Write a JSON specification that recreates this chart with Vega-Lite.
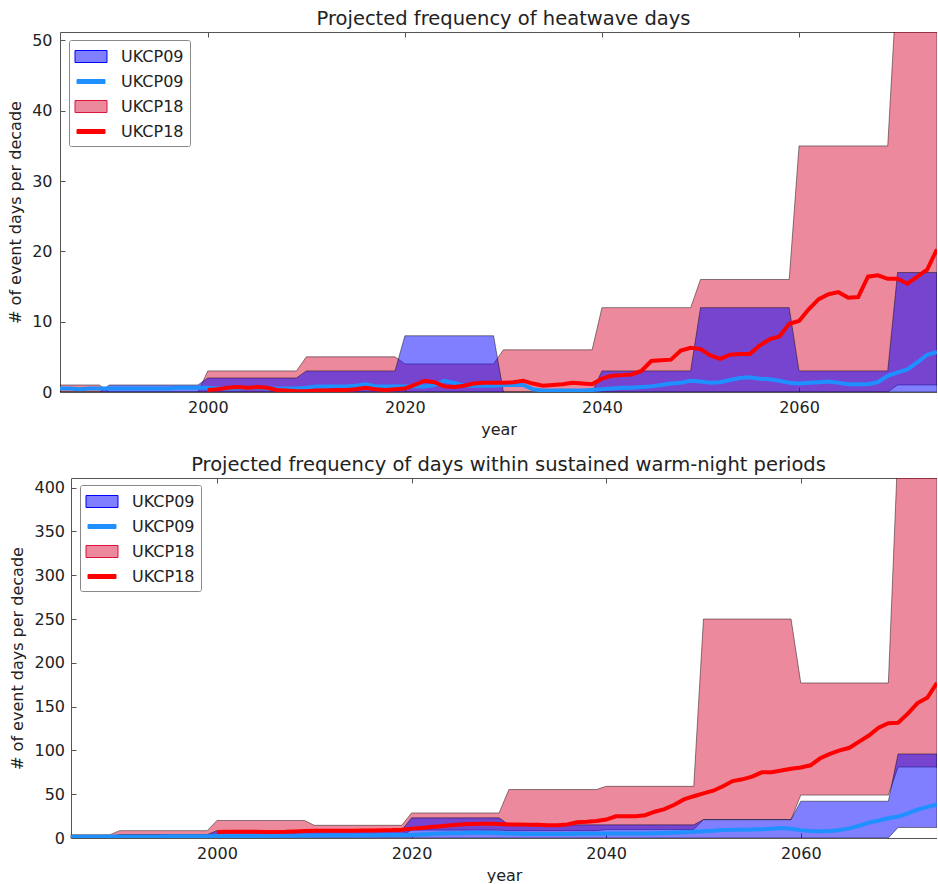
{
  "$schema": "https://vega.github.io/schema/vega-lite/v6.json",
  "background": "white",
  "padding": {"left": 7, "top": 9, "right": 0, "bottom": 0},
  "config": {
    "font": "DejaVu Sans",
    "view": {"stroke": null},
    "axis": {"labelFont": "DejaVu Sans", "titleFont": "DejaVu Sans", "labelFontSize": 16, "titleFontSize": 16, "titleFontWeight": "normal", "labelColor": "#222", "titleColor": "#222", "domainColor": "#555", "domainWidth": 1, "tickColor": "#555", "tickSize": -5, "grid": false, "zindex": 1},
    "title": {"font": "DejaVu Sans", "fontSize": 19.5, "fontWeight": "normal", "color": "#222", "offset": 2},
    "legend": {"symbolStrokeWidth": 1}
  },
  "resolve": {"scale": {"color": "independent"}, "legend": {"color": "independent"}},
  "datasets": {
    "hw18": [
      {"year": 1985, "lo": 0, "hi": 1}, {"year": 1989, "lo": 0, "hi": 1}, {"year": 1990, "lo": 0, "hi": 0}, {"year": 1999, "lo": 0, "hi": 0},
      {"year": 2000, "lo": 0, "hi": 3}, {"year": 2009, "lo": 0, "hi": 3}, {"year": 2010, "lo": 0, "hi": 5}, {"year": 2019, "lo": 0, "hi": 5},
      {"year": 2020, "lo": 0, "hi": 4}, {"year": 2029, "lo": 0, "hi": 4}, {"year": 2030, "lo": 0, "hi": 6}, {"year": 2039, "lo": 0, "hi": 6},
      {"year": 2040, "lo": 0, "hi": 12}, {"year": 2049, "lo": 0, "hi": 12}, {"year": 2050, "lo": 0, "hi": 16}, {"year": 2059, "lo": 0, "hi": 16},
      {"year": 2060, "lo": 0, "hi": 35}, {"year": 2069, "lo": 0, "hi": 35}, {"year": 2070, "lo": 1, "hi": 60}, {"year": 2074, "lo": 1, "hi": 60}
    ],
    "hw09": [
      {"year": 1985, "lo": 0, "hi": 0}, {"year": 1989, "lo": 0, "hi": 0}, {"year": 1990, "lo": 0, "hi": 1}, {"year": 1999, "lo": 0, "hi": 1},
      {"year": 2000, "lo": 0, "hi": 2}, {"year": 2009, "lo": 0, "hi": 2}, {"year": 2010, "lo": 0, "hi": 3}, {"year": 2019, "lo": 0, "hi": 3},
      {"year": 2020, "lo": 0, "hi": 8}, {"year": 2029, "lo": 0, "hi": 8}, {"year": 2030, "lo": 0, "hi": 0}, {"year": 2039, "lo": 0, "hi": 0},
      {"year": 2040, "lo": 0, "hi": 3}, {"year": 2049, "lo": 0, "hi": 3}, {"year": 2050, "lo": 0, "hi": 12}, {"year": 2059, "lo": 0, "hi": 12},
      {"year": 2060, "lo": 0, "hi": 3}, {"year": 2069, "lo": 0, "hi": 3}, {"year": 2070, "lo": 0, "hi": 17}, {"year": 2074, "lo": 0, "hi": 17}
    ],
    "wn18": [
      {"year": 1985, "lo": 0, "hi": 3.8}, {"year": 1989, "lo": 0, "hi": 3.8}, {"year": 1990, "lo": 0, "hi": 8.4}, {"year": 1999, "lo": 0, "hi": 8.4},
      {"year": 2000, "lo": 2, "hi": 20}, {"year": 2009, "lo": 2, "hi": 20}, {"year": 2010, "lo": 3, "hi": 14.5}, {"year": 2019, "lo": 3, "hi": 14.5},
      {"year": 2020, "lo": 9, "hi": 28.6}, {"year": 2029, "lo": 9, "hi": 28.6}, {"year": 2030, "lo": 8.4, "hi": 55.3}, {"year": 2039, "lo": 8.4, "hi": 55.3},
      {"year": 2040, "lo": 9.6, "hi": 59}, {"year": 2049, "lo": 9.6, "hi": 59}, {"year": 2050, "lo": 21, "hi": 250}, {"year": 2059, "lo": 21, "hi": 250},
      {"year": 2060, "lo": 49, "hi": 177}, {"year": 2069, "lo": 49, "hi": 177}, {"year": 2070, "lo": 81, "hi": 450}, {"year": 2074, "lo": 81, "hi": 450}
    ],
    "wn09": [
      {"year": 1985, "lo": 0, "hi": 2}, {"year": 1989, "lo": 0, "hi": 2}, {"year": 1990, "lo": 0, "hi": 4}, {"year": 1999, "lo": 0, "hi": 4},
      {"year": 2000, "lo": 0, "hi": 8.4}, {"year": 2009, "lo": 0, "hi": 8.4}, {"year": 2010, "lo": 0, "hi": 9}, {"year": 2019, "lo": 0, "hi": 9},
      {"year": 2020, "lo": 0, "hi": 23}, {"year": 2029, "lo": 0, "hi": 23}, {"year": 2030, "lo": 0, "hi": 15}, {"year": 2039, "lo": 0, "hi": 15},
      {"year": 2040, "lo": 0, "hi": 15}, {"year": 2049, "lo": 0, "hi": 15}, {"year": 2050, "lo": 0, "hi": 21}, {"year": 2059, "lo": 0, "hi": 21},
      {"year": 2060, "lo": 0, "hi": 42}, {"year": 2069, "lo": 0, "hi": 42}, {"year": 2070, "lo": 12, "hi": 96}, {"year": 2074, "lo": 12, "hi": 96}
    ],
    "hwMean": [
      {"series": "UKCP09 mean", "year": 1985, "value": 0.5}, {"series": "UKCP09 mean", "year": 1986, "value": 0.5}, {"series": "UKCP09 mean", "year": 1987, "value": 0.4}, {"series": "UKCP09 mean", "year": 1988, "value": 0.5}, {"series": "UKCP09 mean", "year": 1989, "value": 0.5},
      {"series": "UKCP09 mean", "year": 1990, "value": 0.5}, {"series": "UKCP09 mean", "year": 1991, "value": 0.5}, {"series": "UKCP09 mean", "year": 1992, "value": 0.5}, {"series": "UKCP09 mean", "year": 1993, "value": 0.5}, {"series": "UKCP09 mean", "year": 1994, "value": 0.5},
      {"series": "UKCP09 mean", "year": 1995, "value": 0.5}, {"series": "UKCP09 mean", "year": 1996, "value": 0.5}, {"series": "UKCP09 mean", "year": 1997, "value": 0.6}, {"series": "UKCP09 mean", "year": 1998, "value": 0.6}, {"series": "UKCP09 mean", "year": 1999, "value": 0.6},
      {"series": "UKCP09 mean", "year": 2000, "value": 0.6}, {"series": "UKCP09 mean", "year": 2001, "value": 0.5}, {"series": "UKCP09 mean", "year": 2002, "value": 0.5}, {"series": "UKCP09 mean", "year": 2003, "value": 0.5}, {"series": "UKCP09 mean", "year": 2004, "value": 0.6},
      {"series": "UKCP09 mean", "year": 2005, "value": 0.6}, {"series": "UKCP09 mean", "year": 2006, "value": 0.5}, {"series": "UKCP09 mean", "year": 2007, "value": 0.5}, {"series": "UKCP09 mean", "year": 2008, "value": 0.5}, {"series": "UKCP09 mean", "year": 2009, "value": 0.5},
      {"series": "UKCP09 mean", "year": 2010, "value": 0.6}, {"series": "UKCP09 mean", "year": 2011, "value": 0.8}, {"series": "UKCP09 mean", "year": 2012, "value": 0.8}, {"series": "UKCP09 mean", "year": 2013, "value": 0.8}, {"series": "UKCP09 mean", "year": 2014, "value": 0.8},
      {"series": "UKCP09 mean", "year": 2015, "value": 0.9}, {"series": "UKCP09 mean", "year": 2016, "value": 1.1}, {"series": "UKCP09 mean", "year": 2017, "value": 0.8}, {"series": "UKCP09 mean", "year": 2018, "value": 0.8}, {"series": "UKCP09 mean", "year": 2019, "value": 0.8},
      {"series": "UKCP09 mean", "year": 2020, "value": 0.8}, {"series": "UKCP09 mean", "year": 2021, "value": 0.8}, {"series": "UKCP09 mean", "year": 2022, "value": 0.8}, {"series": "UKCP09 mean", "year": 2023, "value": 1.0}, {"series": "UKCP09 mean", "year": 2024, "value": 1.6},
      {"series": "UKCP09 mean", "year": 2025, "value": 1.3}, {"series": "UKCP09 mean", "year": 2026, "value": 0.9}, {"series": "UKCP09 mean", "year": 2027, "value": 0.9}, {"series": "UKCP09 mean", "year": 2028, "value": 0.9}, {"series": "UKCP09 mean", "year": 2029, "value": 0.9},
      {"series": "UKCP09 mean", "year": 2030, "value": 1.0}, {"series": "UKCP09 mean", "year": 2031, "value": 1.0}, {"series": "UKCP09 mean", "year": 2032, "value": 1.0}, {"series": "UKCP09 mean", "year": 2033, "value": 0.4}, {"series": "UKCP09 mean", "year": 2034, "value": 0.2},
      {"series": "UKCP09 mean", "year": 2035, "value": 0.2}, {"series": "UKCP09 mean", "year": 2036, "value": 0.2}, {"series": "UKCP09 mean", "year": 2037, "value": 0.2}, {"series": "UKCP09 mean", "year": 2038, "value": 0.2}, {"series": "UKCP09 mean", "year": 2039, "value": 0.3},
      {"series": "UKCP09 mean", "year": 2040, "value": 0.4}, {"series": "UKCP09 mean", "year": 2041, "value": 0.5}, {"series": "UKCP09 mean", "year": 2042, "value": 0.6}, {"series": "UKCP09 mean", "year": 2043, "value": 0.6}, {"series": "UKCP09 mean", "year": 2044, "value": 0.7},
      {"series": "UKCP09 mean", "year": 2045, "value": 0.8}, {"series": "UKCP09 mean", "year": 2046, "value": 1.0}, {"series": "UKCP09 mean", "year": 2047, "value": 1.2}, {"series": "UKCP09 mean", "year": 2048, "value": 1.3}, {"series": "UKCP09 mean", "year": 2049, "value": 1.6},
      {"series": "UKCP09 mean", "year": 2050, "value": 1.5}, {"series": "UKCP09 mean", "year": 2051, "value": 1.3}, {"series": "UKCP09 mean", "year": 2052, "value": 1.4}, {"series": "UKCP09 mean", "year": 2053, "value": 1.7}, {"series": "UKCP09 mean", "year": 2054, "value": 2.0},
      {"series": "UKCP09 mean", "year": 2055, "value": 2.1}, {"series": "UKCP09 mean", "year": 2056, "value": 1.9}, {"series": "UKCP09 mean", "year": 2057, "value": 1.8}, {"series": "UKCP09 mean", "year": 2058, "value": 1.6}, {"series": "UKCP09 mean", "year": 2059, "value": 1.3},
      {"series": "UKCP09 mean", "year": 2060, "value": 1.2}, {"series": "UKCP09 mean", "year": 2061, "value": 1.3}, {"series": "UKCP09 mean", "year": 2062, "value": 1.4}, {"series": "UKCP09 mean", "year": 2063, "value": 1.5}, {"series": "UKCP09 mean", "year": 2064, "value": 1.3},
      {"series": "UKCP09 mean", "year": 2065, "value": 1.1}, {"series": "UKCP09 mean", "year": 2066, "value": 1.1}, {"series": "UKCP09 mean", "year": 2067, "value": 1.1}, {"series": "UKCP09 mean", "year": 2068, "value": 1.4}, {"series": "UKCP09 mean", "year": 2069, "value": 2.3},
      {"series": "UKCP09 mean", "year": 2070, "value": 2.8}, {"series": "UKCP09 mean", "year": 2071, "value": 3.2}, {"series": "UKCP09 mean", "year": 2072, "value": 4.2}, {"series": "UKCP09 mean", "year": 2073, "value": 5.3}, {"series": "UKCP09 mean", "year": 2074, "value": 5.7},
      {"series": "UKCP18 mean", "year": 2000, "value": 0.3}, {"series": "UKCP18 mean", "year": 2001, "value": 0.4}, {"series": "UKCP18 mean", "year": 2002, "value": 0.6}, {"series": "UKCP18 mean", "year": 2003, "value": 0.7}, {"series": "UKCP18 mean", "year": 2004, "value": 0.6},
      {"series": "UKCP18 mean", "year": 2005, "value": 0.7}, {"series": "UKCP18 mean", "year": 2006, "value": 0.6}, {"series": "UKCP18 mean", "year": 2007, "value": 0.3}, {"series": "UKCP18 mean", "year": 2008, "value": 0.2}, {"series": "UKCP18 mean", "year": 2009, "value": 0.1},
      {"series": "UKCP18 mean", "year": 2010, "value": 0.1}, {"series": "UKCP18 mean", "year": 2011, "value": 0.2}, {"series": "UKCP18 mean", "year": 2012, "value": 0.2}, {"series": "UKCP18 mean", "year": 2013, "value": 0.3}, {"series": "UKCP18 mean", "year": 2014, "value": 0.3},
      {"series": "UKCP18 mean", "year": 2015, "value": 0.4}, {"series": "UKCP18 mean", "year": 2016, "value": 0.6}, {"series": "UKCP18 mean", "year": 2017, "value": 0.4}, {"series": "UKCP18 mean", "year": 2018, "value": 0.3}, {"series": "UKCP18 mean", "year": 2019, "value": 0.4},
      {"series": "UKCP18 mean", "year": 2020, "value": 0.5}, {"series": "UKCP18 mean", "year": 2021, "value": 1.0}, {"series": "UKCP18 mean", "year": 2022, "value": 1.6}, {"series": "UKCP18 mean", "year": 2023, "value": 1.4}, {"series": "UKCP18 mean", "year": 2024, "value": 0.8},
      {"series": "UKCP18 mean", "year": 2025, "value": 0.7}, {"series": "UKCP18 mean", "year": 2026, "value": 0.9}, {"series": "UKCP18 mean", "year": 2027, "value": 1.2}, {"series": "UKCP18 mean", "year": 2028, "value": 1.3}, {"series": "UKCP18 mean", "year": 2029, "value": 1.3},
      {"series": "UKCP18 mean", "year": 2030, "value": 1.3}, {"series": "UKCP18 mean", "year": 2031, "value": 1.4}, {"series": "UKCP18 mean", "year": 2032, "value": 1.6}, {"series": "UKCP18 mean", "year": 2033, "value": 1.2}, {"series": "UKCP18 mean", "year": 2034, "value": 0.9},
      {"series": "UKCP18 mean", "year": 2035, "value": 1.0}, {"series": "UKCP18 mean", "year": 2036, "value": 1.1}, {"series": "UKCP18 mean", "year": 2037, "value": 1.3}, {"series": "UKCP18 mean", "year": 2038, "value": 1.2}, {"series": "UKCP18 mean", "year": 2039, "value": 1.1},
      {"series": "UKCP18 mean", "year": 2040, "value": 1.9}, {"series": "UKCP18 mean", "year": 2041, "value": 2.3}, {"series": "UKCP18 mean", "year": 2042, "value": 2.4}, {"series": "UKCP18 mean", "year": 2043, "value": 2.5}, {"series": "UKCP18 mean", "year": 2044, "value": 3.0},
      {"series": "UKCP18 mean", "year": 2045, "value": 4.4}, {"series": "UKCP18 mean", "year": 2046, "value": 4.5}, {"series": "UKCP18 mean", "year": 2047, "value": 4.6}, {"series": "UKCP18 mean", "year": 2048, "value": 5.9}, {"series": "UKCP18 mean", "year": 2049, "value": 6.3},
      {"series": "UKCP18 mean", "year": 2050, "value": 6.1}, {"series": "UKCP18 mean", "year": 2051, "value": 5.2}, {"series": "UKCP18 mean", "year": 2052, "value": 4.7}, {"series": "UKCP18 mean", "year": 2053, "value": 5.3}, {"series": "UKCP18 mean", "year": 2054, "value": 5.4},
      {"series": "UKCP18 mean", "year": 2055, "value": 5.4}, {"series": "UKCP18 mean", "year": 2056, "value": 6.6}, {"series": "UKCP18 mean", "year": 2057, "value": 7.5}, {"series": "UKCP18 mean", "year": 2058, "value": 7.9}, {"series": "UKCP18 mean", "year": 2059, "value": 9.7},
      {"series": "UKCP18 mean", "year": 2060, "value": 10.1}, {"series": "UKCP18 mean", "year": 2061, "value": 11.8}, {"series": "UKCP18 mean", "year": 2062, "value": 13.2}, {"series": "UKCP18 mean", "year": 2063, "value": 13.9}, {"series": "UKCP18 mean", "year": 2064, "value": 14.2},
      {"series": "UKCP18 mean", "year": 2065, "value": 13.4}, {"series": "UKCP18 mean", "year": 2066, "value": 13.5}, {"series": "UKCP18 mean", "year": 2067, "value": 16.4}, {"series": "UKCP18 mean", "year": 2068, "value": 16.6}, {"series": "UKCP18 mean", "year": 2069, "value": 16.1},
      {"series": "UKCP18 mean", "year": 2070, "value": 16.1}, {"series": "UKCP18 mean", "year": 2071, "value": 15.4}, {"series": "UKCP18 mean", "year": 2072, "value": 16.4}, {"series": "UKCP18 mean", "year": 2073, "value": 17.4}, {"series": "UKCP18 mean", "year": 2074, "value": 20.3}
    ],
    "wnMean": [
      {"series": "UKCP09 mean", "year": 1985, "value": 1.5}, {"series": "UKCP09 mean", "year": 1986, "value": 1.5}, {"series": "UKCP09 mean", "year": 1987, "value": 1.5}, {"series": "UKCP09 mean", "year": 1988, "value": 1.5}, {"series": "UKCP09 mean", "year": 1989, "value": 1.6},
      {"series": "UKCP09 mean", "year": 1990, "value": 1.7}, {"series": "UKCP09 mean", "year": 1991, "value": 1.7}, {"series": "UKCP09 mean", "year": 1992, "value": 1.8}, {"series": "UKCP09 mean", "year": 1993, "value": 1.8}, {"series": "UKCP09 mean", "year": 1994, "value": 1.8},
      {"series": "UKCP09 mean", "year": 1995, "value": 1.9}, {"series": "UKCP09 mean", "year": 1996, "value": 1.9}, {"series": "UKCP09 mean", "year": 1997, "value": 2.0}, {"series": "UKCP09 mean", "year": 1998, "value": 2.0}, {"series": "UKCP09 mean", "year": 1999, "value": 2.1},
      {"series": "UKCP09 mean", "year": 2000, "value": 2.2}, {"series": "UKCP09 mean", "year": 2001, "value": 2.2}, {"series": "UKCP09 mean", "year": 2002, "value": 2.3}, {"series": "UKCP09 mean", "year": 2003, "value": 2.3}, {"series": "UKCP09 mean", "year": 2004, "value": 2.4},
      {"series": "UKCP09 mean", "year": 2005, "value": 2.4}, {"series": "UKCP09 mean", "year": 2006, "value": 2.5}, {"series": "UKCP09 mean", "year": 2007, "value": 2.6}, {"series": "UKCP09 mean", "year": 2008, "value": 2.7}, {"series": "UKCP09 mean", "year": 2009, "value": 2.8},
      {"series": "UKCP09 mean", "year": 2010, "value": 2.9}, {"series": "UKCP09 mean", "year": 2011, "value": 3.0}, {"series": "UKCP09 mean", "year": 2012, "value": 3.0}, {"series": "UKCP09 mean", "year": 2013, "value": 3.1}, {"series": "UKCP09 mean", "year": 2014, "value": 3.1},
      {"series": "UKCP09 mean", "year": 2015, "value": 3.2}, {"series": "UKCP09 mean", "year": 2016, "value": 3.2}, {"series": "UKCP09 mean", "year": 2017, "value": 3.3}, {"series": "UKCP09 mean", "year": 2018, "value": 3.3}, {"series": "UKCP09 mean", "year": 2019, "value": 3.4},
      {"series": "UKCP09 mean", "year": 2020, "value": 3.5}, {"series": "UKCP09 mean", "year": 2021, "value": 4.0}, {"series": "UKCP09 mean", "year": 2022, "value": 4.5}, {"series": "UKCP09 mean", "year": 2023, "value": 5.0}, {"series": "UKCP09 mean", "year": 2024, "value": 5.5},
      {"series": "UKCP09 mean", "year": 2025, "value": 5.5}, {"series": "UKCP09 mean", "year": 2026, "value": 6.0}, {"series": "UKCP09 mean", "year": 2027, "value": 6.0}, {"series": "UKCP09 mean", "year": 2028, "value": 6.0}, {"series": "UKCP09 mean", "year": 2029, "value": 5.5},
      {"series": "UKCP09 mean", "year": 2030, "value": 5.0}, {"series": "UKCP09 mean", "year": 2031, "value": 4.8}, {"series": "UKCP09 mean", "year": 2032, "value": 4.6}, {"series": "UKCP09 mean", "year": 2033, "value": 4.5}, {"series": "UKCP09 mean", "year": 2034, "value": 4.5},
      {"series": "UKCP09 mean", "year": 2035, "value": 4.5}, {"series": "UKCP09 mean", "year": 2036, "value": 4.6}, {"series": "UKCP09 mean", "year": 2037, "value": 4.8}, {"series": "UKCP09 mean", "year": 2038, "value": 4.8}, {"series": "UKCP09 mean", "year": 2039, "value": 4.9},
      {"series": "UKCP09 mean", "year": 2040, "value": 5.0}, {"series": "UKCP09 mean", "year": 2041, "value": 5.0}, {"series": "UKCP09 mean", "year": 2042, "value": 5.0}, {"series": "UKCP09 mean", "year": 2043, "value": 5.1}, {"series": "UKCP09 mean", "year": 2044, "value": 5.2},
      {"series": "UKCP09 mean", "year": 2045, "value": 5.3}, {"series": "UKCP09 mean", "year": 2046, "value": 5.6}, {"series": "UKCP09 mean", "year": 2047, "value": 6.0}, {"series": "UKCP09 mean", "year": 2048, "value": 6.5}, {"series": "UKCP09 mean", "year": 2049, "value": 7.0},
      {"series": "UKCP09 mean", "year": 2050, "value": 7.6}, {"series": "UKCP09 mean", "year": 2051, "value": 8.4}, {"series": "UKCP09 mean", "year": 2052, "value": 9.0}, {"series": "UKCP09 mean", "year": 2053, "value": 9.3}, {"series": "UKCP09 mean", "year": 2054, "value": 9.5},
      {"series": "UKCP09 mean", "year": 2055, "value": 9.6}, {"series": "UKCP09 mean", "year": 2056, "value": 10.0}, {"series": "UKCP09 mean", "year": 2057, "value": 10.6}, {"series": "UKCP09 mean", "year": 2058, "value": 11.4}, {"series": "UKCP09 mean", "year": 2059, "value": 10.5},
      {"series": "UKCP09 mean", "year": 2060, "value": 9.0}, {"series": "UKCP09 mean", "year": 2061, "value": 8.0}, {"series": "UKCP09 mean", "year": 2062, "value": 7.6}, {"series": "UKCP09 mean", "year": 2063, "value": 8.0}, {"series": "UKCP09 mean", "year": 2064, "value": 9.2},
      {"series": "UKCP09 mean", "year": 2065, "value": 11.0}, {"series": "UKCP09 mean", "year": 2066, "value": 14.0}, {"series": "UKCP09 mean", "year": 2067, "value": 17.5}, {"series": "UKCP09 mean", "year": 2068, "value": 20.0}, {"series": "UKCP09 mean", "year": 2069, "value": 22.5},
      {"series": "UKCP09 mean", "year": 2070, "value": 24.5}, {"series": "UKCP09 mean", "year": 2071, "value": 28.0}, {"series": "UKCP09 mean", "year": 2072, "value": 32.4}, {"series": "UKCP09 mean", "year": 2073, "value": 35.5}, {"series": "UKCP09 mean", "year": 2074, "value": 38.0},
      {"series": "UKCP18 mean", "year": 2000, "value": 6.9}, {"series": "UKCP18 mean", "year": 2001, "value": 7.0}, {"series": "UKCP18 mean", "year": 2002, "value": 7.0}, {"series": "UKCP18 mean", "year": 2003, "value": 7.2}, {"series": "UKCP18 mean", "year": 2004, "value": 7.0},
      {"series": "UKCP18 mean", "year": 2005, "value": 6.8}, {"series": "UKCP18 mean", "year": 2006, "value": 6.8}, {"series": "UKCP18 mean", "year": 2007, "value": 7.0}, {"series": "UKCP18 mean", "year": 2008, "value": 7.5}, {"series": "UKCP18 mean", "year": 2009, "value": 8.0},
      {"series": "UKCP18 mean", "year": 2010, "value": 8.2}, {"series": "UKCP18 mean", "year": 2011, "value": 8.4}, {"series": "UKCP18 mean", "year": 2012, "value": 8.4}, {"series": "UKCP18 mean", "year": 2013, "value": 8.2}, {"series": "UKCP18 mean", "year": 2014, "value": 8.4},
      {"series": "UKCP18 mean", "year": 2015, "value": 8.6}, {"series": "UKCP18 mean", "year": 2016, "value": 8.6}, {"series": "UKCP18 mean", "year": 2017, "value": 8.8}, {"series": "UKCP18 mean", "year": 2018, "value": 9.0}, {"series": "UKCP18 mean", "year": 2019, "value": 9.5},
      {"series": "UKCP18 mean", "year": 2020, "value": 10.7}, {"series": "UKCP18 mean", "year": 2021, "value": 11.5}, {"series": "UKCP18 mean", "year": 2022, "value": 12.5}, {"series": "UKCP18 mean", "year": 2023, "value": 13.4}, {"series": "UKCP18 mean", "year": 2024, "value": 14.5},
      {"series": "UKCP18 mean", "year": 2025, "value": 15.5}, {"series": "UKCP18 mean", "year": 2026, "value": 16.0}, {"series": "UKCP18 mean", "year": 2027, "value": 16.2}, {"series": "UKCP18 mean", "year": 2028, "value": 16.3}, {"series": "UKCP18 mean", "year": 2029, "value": 16.0},
      {"series": "UKCP18 mean", "year": 2030, "value": 15.5}, {"series": "UKCP18 mean", "year": 2031, "value": 15.5}, {"series": "UKCP18 mean", "year": 2032, "value": 15.2}, {"series": "UKCP18 mean", "year": 2033, "value": 15.0}, {"series": "UKCP18 mean", "year": 2034, "value": 14.5},
      {"series": "UKCP18 mean", "year": 2035, "value": 14.5}, {"series": "UKCP18 mean", "year": 2036, "value": 15.5}, {"series": "UKCP18 mean", "year": 2037, "value": 18.0}, {"series": "UKCP18 mean", "year": 2038, "value": 18.5}, {"series": "UKCP18 mean", "year": 2039, "value": 19.5},
      {"series": "UKCP18 mean", "year": 2040, "value": 21.0}, {"series": "UKCP18 mean", "year": 2041, "value": 24.8}, {"series": "UKCP18 mean", "year": 2042, "value": 24.8}, {"series": "UKCP18 mean", "year": 2043, "value": 24.8}, {"series": "UKCP18 mean", "year": 2044, "value": 26.0},
      {"series": "UKCP18 mean", "year": 2045, "value": 30.0}, {"series": "UKCP18 mean", "year": 2046, "value": 33.0}, {"series": "UKCP18 mean", "year": 2047, "value": 38.0}, {"series": "UKCP18 mean", "year": 2048, "value": 44.0}, {"series": "UKCP18 mean", "year": 2049, "value": 47.7},
      {"series": "UKCP18 mean", "year": 2050, "value": 51.0}, {"series": "UKCP18 mean", "year": 2051, "value": 54.0}, {"series": "UKCP18 mean", "year": 2052, "value": 59.0}, {"series": "UKCP18 mean", "year": 2053, "value": 65.0}, {"series": "UKCP18 mean", "year": 2054, "value": 67.0},
      {"series": "UKCP18 mean", "year": 2055, "value": 70.0}, {"series": "UKCP18 mean", "year": 2056, "value": 75.0}, {"series": "UKCP18 mean", "year": 2057, "value": 75.0}, {"series": "UKCP18 mean", "year": 2058, "value": 77.0}, {"series": "UKCP18 mean", "year": 2059, "value": 79.0},
      {"series": "UKCP18 mean", "year": 2060, "value": 80.5}, {"series": "UKCP18 mean", "year": 2061, "value": 83.0}, {"series": "UKCP18 mean", "year": 2062, "value": 91.0}, {"series": "UKCP18 mean", "year": 2063, "value": 96.0}, {"series": "UKCP18 mean", "year": 2064, "value": 100.0},
      {"series": "UKCP18 mean", "year": 2065, "value": 103.0}, {"series": "UKCP18 mean", "year": 2066, "value": 110.0}, {"series": "UKCP18 mean", "year": 2067, "value": 117.0}, {"series": "UKCP18 mean", "year": 2068, "value": 126.0}, {"series": "UKCP18 mean", "year": 2069, "value": 131.0},
      {"series": "UKCP18 mean", "year": 2070, "value": 131.5}, {"series": "UKCP18 mean", "year": 2071, "value": 142.0}, {"series": "UKCP18 mean", "year": 2072, "value": 154.0}, {"series": "UKCP18 mean", "year": 2073, "value": 160.0}, {"series": "UKCP18 mean", "year": 2074, "value": 177.0}
    ]
  },
  "concat": [
    {
      "width": 877,
      "height": 360,
      "title": {"text": "Projected frequency of heatwave days", "dx": 5},
      "resolve": {"axis": {"x": "independent"}},
      "layer": [
        {
          "data": {"name": "hw18"},
          "mark": {"type": "area", "fill": "#dc143c", "fillOpacity": 0.5, "stroke": "#000", "strokeOpacity": 0.45, "strokeWidth": 1, "clip": true},
          "encoding": {
            "x": {"field": "year", "type": "quantitative", "scale": {"domain": [1985, 2074], "nice": false, "zero": false},
                  "axis": {"values": [2000, 2020, 2040, 2060], "format": "d", "title": "year", "labelPadding": 12, "titlePadding": 6}},
            "y": {"field": "lo", "type": "quantitative", "scale": {"domain": [0, 51.2], "nice": false},
                  "axis": {"values": [0, 10, 20, 30, 40, 50], "title": "# of event days per decade", "labelPadding": 13, "titlePadding": 8}},
            "y2": {"field": "hi"}
          }
        },
        {
          "layer": [
            {
              "data": {"name": "hw09"},
              "mark": {"type": "area", "fill": "#0000ff", "fillOpacity": 0.5, "stroke": "#000", "strokeOpacity": 0.45, "strokeWidth": 1, "clip": true},
              "encoding": {
                "x": {"field": "year", "type": "quantitative", "scale": {"domain": [1985, 2074], "nice": false, "zero": false},
                      "axis": {"orient": "top", "values": [2000, 2020, 2040, 2060], "labels": false, "title": null}},
                "y": {"field": "lo", "type": "quantitative", "scale": {"domain": [0, 51.2], "nice": false},
                      "axis": {"values": [0, 10, 20, 30, 40, 50], "title": "# of event days per decade", "labelPadding": 13, "titlePadding": 8}},
                "y2": {"field": "hi"}
              }
            },
            {
              "data": {"name": "hwMean"},
              "mark": {"type": "line", "strokeWidth": 4, "clip": true},
              "encoding": {
                "x": {"field": "year", "type": "quantitative", "scale": {"domain": [1985, 2074], "nice": false, "zero": false},
                      "axis": {"orient": "top", "values": [2000, 2020, 2040, 2060], "labels": false, "title": null}},
                "y": {"field": "value", "type": "quantitative", "scale": {"domain": [0, 51.2], "nice": false},
                      "axis": {"values": [0, 10, 20, 30, 40, 50], "title": "# of event days per decade", "labelPadding": 13, "titlePadding": 8}},
                "color": {"field": "series", "type": "nominal",
                  "scale": {"domain": ["UKCP09 range", "UKCP09 mean", "UKCP18 range", "UKCP18 mean"], "range": ["#0000ff", "#1e90ff", "#dc143c", "#ff0000"]},
                  "legend": {
                    "title": null, "orient": "none", "legendX": 9, "legendY": 8,
                    "labelExpr": "split(datum.label, ' ')[0]",
                    "labelFont": "DejaVu Sans", "labelFontSize": 16, "labelColor": "#222", "labelOffset": 19.5,
                    "symbolSize": 400, "symbolStrokeWidth": 1, "symbolOffset": 5.5, "rowPadding": 6, "padding": 6,
                    "strokeColor": "#888", "fillColor": "white", "cornerRadius": 2,
                    "encoding": {
                      "symbols": {
                        "shape": {"condition": {"test": "indexof(datum.value, 'mean') >= 0", "value": "M-1.4,-0.2H1.4V0.2H-1.4Z"}, "value": "M-1.6,-0.6H1.6V0.6H-1.6Z"},
                        "fill": {"condition": [{"test": "datum.value === 'UKCP09 range'", "value": "#7f7fff"}, {"test": "datum.value === 'UKCP18 range'", "value": "#ed899d"}, {"test": "datum.value === 'UKCP09 mean'", "value": "#1e90ff"}], "value": "#ff0000"},
                        "stroke": {"condition": {"test": "indexof(datum.value, 'mean') >= 0", "value": "transparent"}, "value": "#6a6a6a"},
                        "opacity": {"value": 1},
                        "fillOpacity": {"value": 1},
                        "strokeOpacity": {"value": 1}
                      }
                    }
                  }
                }
              }
            }
          ]
        }
      ]
    },
    {
      "width": 877,
      "height": 360,
      "title": {"text": "Projected frequency of days within sustained warm-night periods", "dx": 10},
      "resolve": {"axis": {"x": "independent"}},
      "layer": [
        {
          "data": {"name": "wn18"},
          "mark": {"type": "area", "fill": "#dc143c", "fillOpacity": 0.5, "stroke": "#000", "strokeOpacity": 0.45, "strokeWidth": 1, "clip": true},
          "encoding": {
            "x": {"field": "year", "type": "quantitative", "scale": {"domain": [1985, 2074], "range": [11, 877], "nice": false, "zero": false},
                  "axis": {"values": [2000, 2020, 2040, 2060], "format": "d", "title": "year", "labelPadding": 12, "titlePadding": 6}},
            "y": {"field": "lo", "type": "quantitative", "scale": {"domain": [0, 411], "nice": false},
                  "axis": {"values": [0, 50, 100, 150, 200, 250, 300, 350, 400], "title": "# of event days per decade", "labelPadding": 11.5, "titlePadding": 8, "offset": -11}},
            "y2": {"field": "hi"}
          }
        },
        {
          "layer": [
            {
              "data": {"name": "wn09"},
              "mark": {"type": "area", "fill": "#0000ff", "fillOpacity": 0.5, "stroke": "#000", "strokeOpacity": 0.45, "strokeWidth": 1, "clip": true},
              "encoding": {
                "x": {"field": "year", "type": "quantitative", "scale": {"domain": [1985, 2074], "range": [11, 877], "nice": false, "zero": false},
                      "axis": {"orient": "top", "values": [2000, 2020, 2040, 2060], "labels": false, "title": null}},
                "y": {"field": "lo", "type": "quantitative", "scale": {"domain": [0, 411], "nice": false},
                      "axis": {"values": [0, 50, 100, 150, 200, 250, 300, 350, 400], "title": "# of event days per decade", "labelPadding": 11.5, "titlePadding": 8, "offset": -11}},
                "y2": {"field": "hi"}
              }
            },
            {
              "data": {"name": "wnMean"},
              "mark": {"type": "line", "strokeWidth": 4, "clip": true},
              "encoding": {
                "x": {"field": "year", "type": "quantitative", "scale": {"domain": [1985, 2074], "range": [11, 877], "nice": false, "zero": false},
                      "axis": {"orient": "top", "values": [2000, 2020, 2040, 2060], "labels": false, "title": null}},
                "y": {"field": "value", "type": "quantitative", "scale": {"domain": [0, 411], "nice": false},
                      "axis": {"values": [0, 50, 100, 150, 200, 250, 300, 350, 400], "title": "# of event days per decade", "labelPadding": 11.5, "titlePadding": 8, "offset": -11}},
                "color": {"field": "series", "type": "nominal",
                  "scale": {"domain": ["UKCP09 range", "UKCP09 mean", "UKCP18 range", "UKCP18 mean"], "range": ["#0000ff", "#1e90ff", "#dc143c", "#ff0000"]},
                  "legend": {
                    "title": null, "orient": "none", "legendX": 20, "legendY": 7,
                    "labelExpr": "split(datum.label, ' ')[0]",
                    "labelFont": "DejaVu Sans", "labelFontSize": 16, "labelColor": "#222", "labelOffset": 19.5,
                    "symbolSize": 400, "symbolStrokeWidth": 1, "symbolOffset": 5.5, "rowPadding": 6, "padding": 6,
                    "strokeColor": "#888", "fillColor": "white", "cornerRadius": 2,
                    "encoding": {
                      "symbols": {
                        "shape": {"condition": {"test": "indexof(datum.value, 'mean') >= 0", "value": "M-1.4,-0.2H1.4V0.2H-1.4Z"}, "value": "M-1.6,-0.6H1.6V0.6H-1.6Z"},
                        "fill": {"condition": [{"test": "datum.value === 'UKCP09 range'", "value": "#7f7fff"}, {"test": "datum.value === 'UKCP18 range'", "value": "#ed899d"}, {"test": "datum.value === 'UKCP09 mean'", "value": "#1e90ff"}], "value": "#ff0000"},
                        "stroke": {"condition": {"test": "indexof(datum.value, 'mean') >= 0", "value": "transparent"}, "value": "#6a6a6a"},
                        "opacity": {"value": 1},
                        "fillOpacity": {"value": 1},
                        "strokeOpacity": {"value": 1}
                      }
                    }
                  }
                }
              }
            }
          ]
        }
      ]
    }
  ],
  "columns": 1,
  "spacing": 18
}
